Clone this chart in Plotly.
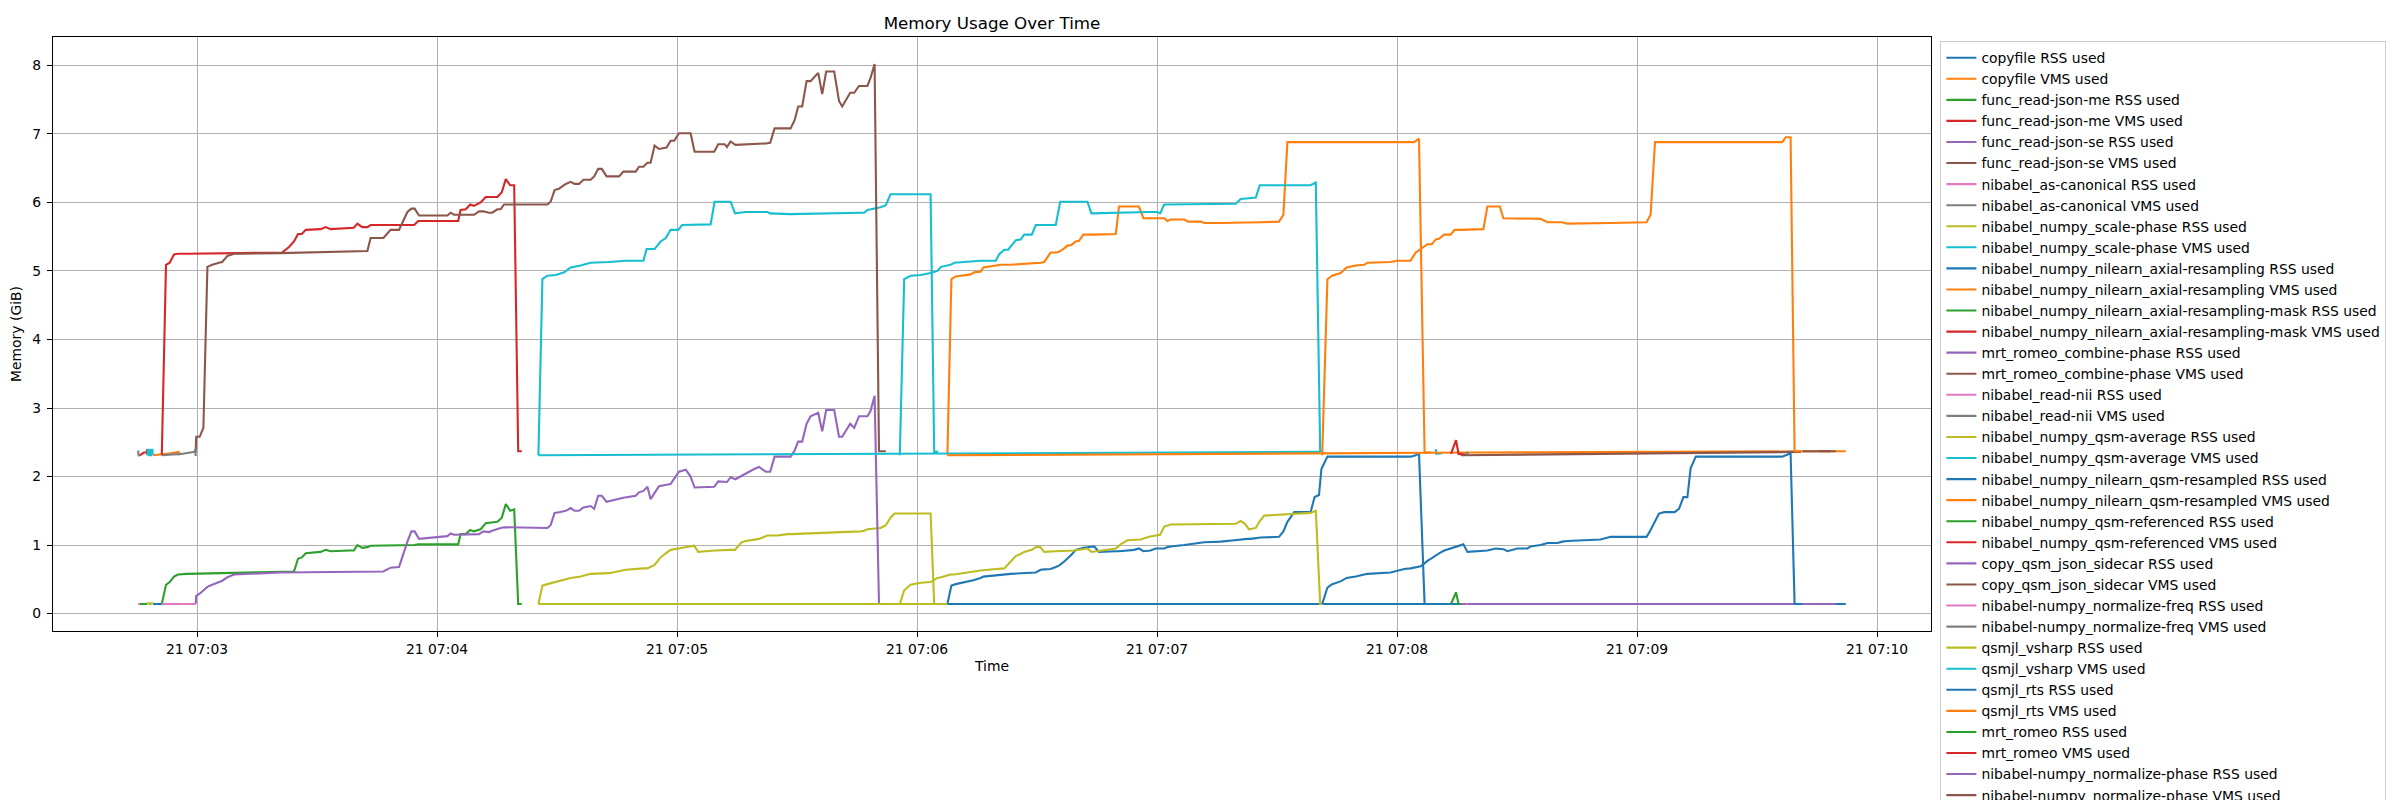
import pandas as pd
import plotly.graph_objects as go

START = pd.Timestamp("2024-03-21 07:03:00")

# time in seconds after 07:03:00, memory in GiB
copyfile_t = [-11.0, -8.7, -6.5, -4.6, -4.5]
copyfile_rss = [0.14, 0.14, 0.14, 0.14, 0.14]
copyfile_vms = [2.31, 2.32, 2.34, 2.36, 2.31]

json_me_t = [-14.3, -13.3, -12.6, -12.45, -12.4]
json_me_rss = [0.14, 0.14, 0.14, 0.15, 0.14]
json_me_vms = [2.31, 2.35, 2.35, 2.40, 2.31]

json_se_t = [-14.7, -14.4]
json_se_rss = [0.14, 0.14]
json_se_vms = [2.31, 2.31]

canonical_t = [-14.7, -14.6, -14.3]
canonical_rss = [0.14, 0.14, 0.14]
canonical_vms = [2.38, 2.31, 2.31]

scale_t = [-12.35, -12.3, -12.0, -11.95, -11.5, -11.45, -11.15, -11.1, None,
           85.35, 86.35, 87.6, 89.7, 91.8, 92.6, 93.4, 95.9, 98.4, 103.0, 107.2,
           111.6, 112.4, 112.6, 114.4, 115.9, 117.2, 118.4, 120.3, 121.3, 124.3,
           125.3, 128.4, 129.4, 133.4, 134.5, 136.1, 137.2, 140.5, 142.6, 143.3,
           145.1, 147.6, 148.4, 165.9, 166.8, 167.6, 170.1, 170.9, 172.2, 173.4,
           174.4, 183.4, 184.3, 185.3]
scale_rss = [0.14, 0.15, 0.15, 0.14, 0.14, 0.15, 0.15, 0.14, None,
             0.14, 0.41, 0.43, 0.46, 0.49, 0.51, 0.52, 0.54, 0.58, 0.59, 0.64,
             0.66, 0.66, 0.66, 0.71, 0.82, 0.88, 0.93, 0.95, 0.96, 0.99,
             0.90, 0.92, 0.92, 0.93, 0.93, 1.04, 1.06, 1.09, 1.14, 1.14,
             1.14, 1.16, 1.16, 1.20, 1.21, 1.23, 1.24, 1.25, 1.29, 1.40,
             1.46, 1.46, 0.14, 0.14]
scale_vms = [2.31, 2.39, 2.39, 2.31, 2.31, 2.39, 2.39, 2.31, None,
             2.31, 4.88, 4.93, 4.94, 4.98, 5.02, 5.05, 5.08, 5.12, 5.13, 5.15,
             5.15, 5.32, 5.32, 5.32, 5.43, 5.48, 5.60, 5.60, 5.67, 5.67,
             5.67, 5.68, 6.01, 6.01, 5.84, 5.85, 5.86, 5.86, 5.86, 5.84,
             5.84, 5.83, 5.83, 5.85, 5.85, 5.89, 5.92, 5.93, 5.96, 6.12,
             6.12, 6.12, 2.36, 2.36]

axial_t = [187.6, 188.6, 189.7, 191.3, 193.4, 194.3, 195.9, 196.6, 198.4, 200.9,
           203.4, 209.7, 210.9, 211.8, 213.4, 214.7, 215.5, 216.8, 217.6, 218.6,
           219.7, 220.5, 221.6, 224.3, 225.5, 229.7, 230.5, 234.3, 235.5, 236.6,
           238.4, 239.7, 241.8, 242.6, 243.4, 246.8, 247.8, 251.0, 251.8, 255.9,
           257.2, 259.3, 262.6, 263.4, 265.9, 270.5, 271.6, 272.6, 274.3, 278.4,
           279.4, 280.5, 281.1, 282.6, 303.4, 304.3, 304.7, 305.5, 306.9, 308.5]
axial_rss = [0.14, 0.41, 0.43, 0.45, 0.47, 0.49, 0.52, 0.54, 0.55, 0.57,
             0.58, 0.60, 0.64, 0.645, 0.65, 0.68, 0.70, 0.76, 0.80, 0.86,
             0.93, 0.94, 0.96, 0.98, 0.90, 0.91, 0.91, 0.93, 0.95, 0.91,
             0.92, 0.95, 0.95, 0.97, 0.98, 1.00, 1.01, 1.04, 1.04, 1.05,
             1.06, 1.07, 1.09, 1.09, 1.11, 1.12, 1.20, 1.34, 1.48, 1.48,
             1.70, 1.73, 2.11, 2.29, 2.29, 2.30, 2.31, 2.34, 0.14, 0.14]
axial_vms = [2.31, 4.88, 4.92, 4.93, 4.95, 4.98, 4.99, 5.05, 5.07, 5.09,
             5.09, 5.11, 5.12, 5.13, 5.27, 5.27, 5.28, 5.33, 5.37, 5.38,
             5.43, 5.44, 5.53, 5.53, 5.53, 5.54, 5.94, 5.94, 5.94, 5.77,
             5.77, 5.77, 5.77, 5.73, 5.75, 5.75, 5.72, 5.72, 5.70, 5.70,
             5.70, 5.70, 5.71, 5.71, 5.71, 5.72, 5.82, 6.88, 6.88, 6.88,
             6.88, 6.88, 6.88, 6.88, 6.88, 6.88, 6.90, 6.93, 2.35, 2.35]

mask_t = [-8.8, -7.75, -6.83, -5.75, -4.75, -2.4, 21.3, 23.0, 24.25, 25.25,
          26.2, 27.2, 30.9, 32.2, 33.4, 38.0, 39.2, 40.1, 41.3, 42.6,
          43.4, 54.3, 55.3, 65.3, 65.9, 67.2, 68.3, 69.2, 70.9, 72.2,
          75.1, 76.2, 77.2, 78.3, 79.3, 80.3, 81.2]
mask_rss = [0.14, 0.42, 0.46, 0.54, 0.57, 0.58, 0.61, 0.61, 0.615, 0.80,
            0.82, 0.88, 0.90, 0.93, 0.91, 0.92, 0.92, 1.00, 0.96, 0.97,
            0.99, 1.00, 1.01, 1.01, 1.16, 1.16, 1.22, 1.20, 1.23, 1.32,
            1.34, 1.40, 1.60, 1.50, 1.52, 0.14, 0.14]
mask_vms = [2.31, 5.09, 5.12, 5.24, 5.25, 5.25, 5.27, 5.35, 5.43, 5.54,
            5.54, 5.60, 5.61, 5.64, 5.61, 5.62, 5.63, 5.69, 5.64, 5.64,
            5.67, 5.67, 5.73, 5.73, 5.89, 5.90, 5.97, 5.95, 6.00, 6.08,
            6.08, 6.15, 6.34, 6.25, 6.25, 2.37, 2.37]

combine_t = [-0.33, -0.2, 0.67, 1.6, 2.6, 3.8, 5.5, 6.3, 7.6, 9.25,
             20.9, 42.6, 43.4, 46.6, 48.4, 50.5, 52.6, 53.6, 54.4, 55.5,
             62.6, 63.4, 64.25, 69.25, 70.5, 71.6, 73.0, 73.8, 75.1, 75.9,
             76.75, 87.6, 88.4, 89.4, 90.5, 92.2, 93.4, 94.4, 95.5, 96.6,
             98.4, 99.3, 100.3, 101.2, 102.4, 105.5, 106.6, 109.7, 110.5, 111.6,
             112.6, 113.4, 114.4, 115.5, 117.4, 118.4, 119.3, 120.5, 122.2, 123.4,
             124.4, 129.3, 130.3, 131.9, 132.5, 133.4, 134.6, 139.3, 140.5, 142.2,
             143.3, 144.4, 148.4, 149.4, 150.3, 151.3, 152.4, 153.4, 155.3, 156.3,
             157.3, 159.3, 160.5, 161.3, 163.3, 164.3, 165.5, 167.6, 168.4, 169.4,
             170.5, 172.2]
combine_rss = [0.14, 0.26, 0.29, 0.34, 0.39, 0.42, 0.46, 0.48, 0.53, 0.57,
               0.60, 0.61, 0.61, 0.615, 0.67, 0.68, 1.05, 1.20, 1.20, 1.09,
               1.13, 1.17, 1.15, 1.16, 1.16, 1.20, 1.19, 1.21, 1.24, 1.25,
               1.26, 1.25, 1.29, 1.47, 1.48, 1.50, 1.54, 1.50, 1.50, 1.55,
               1.57, 1.53, 1.72, 1.72, 1.63, 1.68, 1.69, 1.72, 1.77, 1.79,
               1.85, 1.67, 1.76, 1.86, 1.88, 1.89, 1.97, 2.07, 2.10, 2.00,
               1.84, 1.85, 1.93, 1.93, 1.92, 1.99, 1.96, 2.11, 2.14, 2.07,
               2.07, 2.29, 2.29, 2.38, 2.51, 2.51, 2.77, 2.88, 2.93, 2.66,
               2.97, 2.97, 2.58, 2.58, 2.77, 2.71, 2.88, 2.88, 2.96, 3.18,
               0.14, 0.14]
combine_vms = [2.35, 2.58, 2.58, 2.71, 5.06, 5.09, 5.12, 5.13, 5.22, 5.25,
               5.26, 5.29, 5.48, 5.48, 5.60, 5.60, 5.86, 5.91, 5.91, 5.81,
               5.81, 5.85, 5.82, 5.82, 5.87, 5.87, 5.85, 5.85, 5.90, 5.90,
               5.97, 5.97, 6.01, 6.18, 6.20, 6.27, 6.30, 6.27, 6.27, 6.33,
               6.33, 6.38, 6.49, 6.49, 6.38, 6.38, 6.45, 6.45, 6.52, 6.52,
               6.58, 6.58, 6.83, 6.78, 6.80, 6.90, 6.90, 7.01, 7.01, 7.01,
               6.74, 6.74, 6.85, 6.85, 6.81, 6.89, 6.84, 6.85, 6.86, 6.86,
               6.87, 7.08, 7.08, 7.20, 7.40, 7.40, 7.77, 7.77, 7.89, 7.58,
               7.91, 7.91, 7.48, 7.40, 7.60, 7.60, 7.70, 7.70, 7.82, 8.02,
               2.37, 2.37]

read_nii_t = [-8.8, -4.0, -0.6, -0.45, -0.33]
read_nii_rss = [0.14, 0.14, 0.14, 0.14, 0.14]
read_nii_vms = [2.31, 2.33, 2.36, 2.40, 2.30]

average_t = [85.35, 130.0, 180.0, 230.0, 280.7, None, 309.7, 309.8, 311.3]
average_rss = [0.14, 0.14, 0.14, 0.14, 0.14, None, 0.14, 0.14, 0.14]
average_vms = [2.31, 2.32, 2.33, 2.34, 2.36, None, 2.40, 2.33, 2.34]

resampled_t = [187.6, 250.0, 320.0, 412.2]
resampled_rss = [0.14, 0.14, 0.14, 0.14]
resampled_vms = [2.31, 2.33, 2.35, 2.37]

referenced_t = [313.5, 314.75, 315.4, 317.2]
referenced_rss = [0.14, 0.31, 0.14, 0.14]
referenced_vms = [2.33, 2.53, 2.33, 2.32]

sidecar_t = [316.0, 360.0, 401.0]
sidecar_rss = [0.14, 0.14, 0.14]
sidecar_vms = [2.31, 2.34, 2.36]

norm_freq_t = [317.4, 317.8]
norm_freq_rss = [0.14, 0.14]
norm_freq_vms = [2.36, 2.32]

vsharp_t = [175.7, 176.8, 178.4, 180.9, 183.4, 185.1, 186.0, 188.4, 189.3, 192.6,
            195.9, 199.7, 200.5, 201.8, 202.8, 204.7, 205.9, 206.8, 208.7, 209.7,
            210.8, 211.8, 214.7, 215.8, 219.3, 222.6, 223.6, 229.7, 230.9, 232.6,
            235.9, 238.0, 240.1, 240.8, 241.8, 243.4, 259.7, 260.9, 262.0, 263.0,
            264.7, 265.7, 266.8, 278.4, 279.7, 280.8, 281.5]
vsharp_rss = [0.14, 0.34, 0.42, 0.45, 0.46, 0.52, 0.53, 0.57, 0.57, 0.60,
              0.63, 0.65, 0.65, 0.66, 0.72, 0.84, 0.87, 0.90, 0.93, 0.97,
              0.97, 0.90, 0.91, 0.91, 0.92, 0.95, 0.90, 0.95, 1.01, 1.07,
              1.08, 1.12, 1.15, 1.15, 1.27, 1.30, 1.31, 1.35, 1.31, 1.23,
              1.25, 1.35, 1.43, 1.47, 1.50, 0.14, 0.14]
vsharp_vms = [2.31, 4.88, 4.93, 4.94, 4.97, 5.00, 5.06, 5.09, 5.12, 5.13,
              5.15, 5.15, 5.24, 5.31, 5.31, 5.45, 5.46, 5.53, 5.53, 5.67,
              5.67, 5.67, 5.67, 6.01, 6.01, 6.01, 5.84, 5.85, 5.85, 5.86,
              5.86, 5.86, 5.86, 5.84, 5.97, 5.97, 5.98, 6.05, 6.05, 6.06,
              6.07, 6.25, 6.25, 6.25, 6.29, 2.37, 2.37]

rts_t = [281.3, 282.6, 283.8, 285.9, 287.4, 289.7, 291.8, 292.6, 298.4, 300.1,
         301.8, 303.4, 304.7, 305.9, 306.8, 307.6, 308.7, 309.7, 310.5, 311.8,
         313.4, 314.4, 315.5, 316.6, 317.6, 321.6, 322.6, 324.7, 325.7, 326.6,
         327.6, 330.1, 332.6, 333.4, 335.9, 337.6, 340.1, 341.3, 342.6, 348.4,
         350.9, 353.4, 362.4, 363.4, 364.5, 365.5, 366.8, 369.4, 370.5, 371.6,
         372.6, 373.4, 374.7, 395.9, 396.3, 397.2, 398.4, 399.4, 401.0]
rts_rss = [0.14, 0.38, 0.43, 0.47, 0.52, 0.54, 0.57, 0.58, 0.60, 0.63,
           0.65, 0.66, 0.67, 0.69, 0.73, 0.77, 0.81, 0.85, 0.88, 0.92,
           0.95, 0.97, 0.99, 1.01, 0.90, 0.91, 0.92, 0.95, 0.95, 0.94,
           0.91, 0.95, 0.95, 0.98, 1.00, 1.03, 1.03, 1.05, 1.06, 1.07,
           1.08, 1.12, 1.12, 1.22, 1.35, 1.46, 1.48, 1.48, 1.53, 1.70,
           1.70, 2.12, 2.29, 2.29, 2.29, 2.31, 2.34, 0.14, 0.14]
rts_vms = [2.31, 4.88, 4.93, 4.97, 5.05, 5.08, 5.09, 5.12, 5.13, 5.15,
           5.15, 5.15, 5.27, 5.32, 5.36, 5.39, 5.39, 5.46, 5.47, 5.53,
           5.53, 5.60, 5.60, 5.60, 5.60, 5.61, 5.94, 5.94, 5.94, 5.77,
           5.77, 5.77, 5.77, 5.76, 5.76, 5.71, 5.71, 5.71, 5.69, 5.69,
           5.69, 5.70, 5.71, 5.82, 6.88, 6.88, 6.88, 6.88, 6.88, 6.88,
           6.88, 6.88, 6.88, 6.88, 6.88, 6.95, 6.95, 2.37, 2.37]

romeo_t = [405.5, 408.4]
romeo_rss = [0.14, 0.14]
romeo_vms = [2.37, 2.37]

norm_phase_t = [401.3, 409.7]
norm_phase_rss = [0.14, 0.14]
norm_phase_vms = [2.37, 2.37]

TASKS = [
    ("copyfile", copyfile_t, copyfile_rss, copyfile_vms),
    ("func_read-json-me", json_me_t, json_me_rss, json_me_vms),
    ("func_read-json-se", json_se_t, json_se_rss, json_se_vms),
    ("nibabel_as-canonical", canonical_t, canonical_rss, canonical_vms),
    ("nibabel_numpy_scale-phase", scale_t, scale_rss, scale_vms),
    ("nibabel_numpy_nilearn_axial-resampling", axial_t, axial_rss, axial_vms),
    ("nibabel_numpy_nilearn_axial-resampling-mask", mask_t, mask_rss, mask_vms),
    ("mrt_romeo_combine-phase", combine_t, combine_rss, combine_vms),
    ("nibabel_read-nii", read_nii_t, read_nii_rss, read_nii_vms),
    ("nibabel_numpy_qsm-average", average_t, average_rss, average_vms),
    ("nibabel_numpy_nilearn_qsm-resampled", resampled_t, resampled_rss, resampled_vms),
    ("nibabel_numpy_qsm-referenced", referenced_t, referenced_rss, referenced_vms),
    ("copy_qsm_json_sidecar", sidecar_t, sidecar_rss, sidecar_vms),
    ("nibabel-numpy_normalize-freq", norm_freq_t, norm_freq_rss, norm_freq_vms),
    ("qsmjl_vsharp", vsharp_t, vsharp_rss, vsharp_vms),
    ("qsmjl_rts", rts_t, rts_rss, rts_vms),
    ("mrt_romeo", romeo_t, romeo_rss, romeo_vms),
    ("nibabel-numpy_normalize-phase", norm_phase_t, norm_phase_rss, norm_phase_vms),
]

COLORS = ["#1f77b4", "#ff7f0e", "#2ca02c", "#d62728", "#9467bd",
          "#8c564b", "#e377c2", "#7f7f7f", "#bcbd22", "#17becf"]


def to_time(secs):
    return [None if s is None else START + pd.Timedelta(seconds=s) for s in secs]


fig = go.Figure()
n = 0
for task, t, rss, vms in TASKS:
    assert len(t) == len(rss) == len(vms), task
    x = to_time(t)
    for kind, y in (("RSS", rss), ("VMS", vms)):
        fig.add_trace(go.Scatter(
            x=x, y=y, mode="lines", name=f"{task} {kind} used",
            line=dict(color=COLORS[n % 10], width=2.1),
        ))
        n += 1

axis_style = dict(
    showgrid=True, gridcolor="#b0b0b0", gridwidth=1.1,
    showline=True, linecolor="black", linewidth=1.1, mirror=True,
    ticks="outside", ticklen=5, tickwidth=1.1, tickcolor="black",
    zeroline=False, tickfont=dict(size=13.9),
)
fig.update_xaxes(
    **axis_style,
    range=[START - pd.Timedelta(seconds=36.0), START + pd.Timedelta(seconds=433.5)],
    tickformat="%d %H:%M", dtick=60000, tick0=START,
    title=dict(text="Time", standoff=5, font=dict(size=13.9)),
)
fig.update_yaxes(
    **axis_style,
    range=[-0.254, 8.414], dtick=1, ticklabelstandoff=3,
    title=dict(text="Memory (GiB)", standoff=8, font=dict(size=13.9)),
)
# the page body adds 8px around the figure, so the figure is shifted to match
fig.update_layout(
    width=2384, height=792,
    margin=dict(l=45, r=461, t=29, b=169, autoexpand=False),
    paper_bgcolor="white", plot_bgcolor="white",
    font=dict(family="DejaVu Sans", size=13.9, color="black"),
    title=dict(text="Memory Usage Over Time", x=0.5, xref="paper", xanchor="center",
               y=1 - 15 / 792, yanchor="middle", font=dict(size=16.7)),
    legend=dict(x=1.005, xanchor="left", y=0.993, yanchor="top",
                bordercolor="#cccccc", borderwidth=1, bgcolor="rgba(255,255,255,0.8)",
                font=dict(size=13.9), maxheight=1000),
    showlegend=True,
)
fig.write_html("out.html")
